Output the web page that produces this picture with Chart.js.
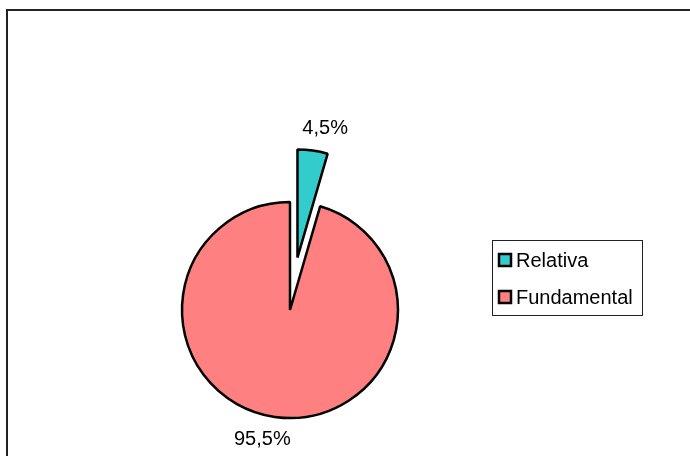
<!DOCTYPE html>
<html>
<head>
<meta charset="utf-8">
<script src="https://cdn.jsdelivr.net/npm/chart.js@4.4.0/dist/chart.umd.min.js"></script>
<style>
  html, body { margin: 0; padding: 0; background: #fff; }
  #wrap { width: 690px; height: 456px; position: relative; }
</style>
</head>
<body>
<div id="wrap"><canvas id="pie"></canvas></div>
<script>
const labels = ['Relativa', 'Fundamental'];
const values = [4.5, 95.5];
const valueLabels = ['4,5%', '95,5%'];
const colors = ['#33CCCC', '#FF8080'];

const FONT = '"Liberation Sans", Arial, sans-serif';
const PIE_RADIUS = 108;
// Chart.js moves an arc by offset / 4, so 212 pulls the slice out ~53px
const sliceOffsets = [212, 0];

// an offset arc is drawn bigger and narrower than its share; undo both so
// the pulled-out slice keeps the pie's radius and its full angle
const keepShapePlugin = {
  id: 'keepShape',
  afterDatasetsUpdate(chart) {
    chart.getDatasetMeta(0).data.forEach((arc, i) => {
      const off = sliceOffsets[i] / 4;
      if (!off) return;
      const fix = 1 - Math.sin(Math.min(Math.PI, arc.circumference));
      const grow = off * fix;
      const widen = grow / (Math.PI * PIE_RADIUS);
      arc.outerRadius = PIE_RADIUS - grow;
      arc.startAngle -= widen / 2;
      arc.endAngle += widen / 2;
    });
  }
};

// outer frame around the chart
const framePlugin = {
  id: 'frame',
  beforeDraw(chart) {
    const ctx = chart.ctx;
    ctx.save();
    ctx.strokeStyle = '#222';
    ctx.lineWidth = 2;
    ctx.strokeRect(7, 10, 700, 460);
    ctx.restore();
  }
};

// percentage labels just outside each slice
const valueLabelPlugin = {
  id: 'valueLabels',
  afterDatasetsDraw(chart) {
    const ctx = chart.ctx;
    const meta = chart.getDatasetMeta(0);
    ctx.save();
    ctx.font = '20px ' + FONT;
    ctx.fillStyle = '#000';
    ctx.textAlign = 'center';
    ctx.textBaseline = 'middle';
    meta.data.forEach((arc, i) => {
      const mid = (arc.startAngle + arc.endAngle) / 2;
      const shift = sliceOffsets[i] / 4;
      const cx = arc.x + Math.cos(mid) * shift;
      const cy = arc.y + Math.sin(mid) * shift;
      const a = mid + 0.07;
      const r = PIE_RADIUS + 24;
      ctx.fillText(valueLabels[i], cx + Math.cos(a) * r, cy + Math.sin(a) * r);
    });
    ctx.restore();
  }
};

// legend box on the right
const legendPlugin = {
  id: 'boxLegend',
  afterDraw(chart) {
    const ctx = chart.ctx;
    ctx.save();
    ctx.strokeStyle = '#222';
    ctx.lineWidth = 1;
    ctx.strokeRect(492.5, 240.5, 150, 75);
    ctx.font = '20px ' + FONT;
    ctx.textBaseline = 'middle';
    ctx.textAlign = 'left';
    labels.forEach((name, i) => {
      const cy = 260 + i * 37;
      ctx.fillStyle = colors[i];
      ctx.fillRect(499, cy - 6, 12, 12);
      ctx.strokeStyle = '#000';
      ctx.lineWidth = 2.5;
      ctx.strokeRect(499, cy - 6, 12, 12);
      ctx.fillStyle = '#000';
      ctx.fillText(name, 516, cy + 1);
    });
    ctx.restore();
  }
};

new Chart(document.getElementById('pie'), {
  type: 'pie',
  data: {
    labels: labels,
    datasets: [{
      data: values,
      backgroundColor: colors,
      borderColor: '#000',
      borderWidth: 2.5,
      offset: sliceOffsets
    }]
  },
  options: {
    responsive: true,
    maintainAspectRatio: false,
    animation: false,
    radius: PIE_RADIUS,
    layout: { padding: { left: 0, right: 110, top: 164, bottom: 0 } },
    plugins: {
      legend: { display: false },
      tooltip: { enabled: false }
    }
  },
  plugins: [keepShapePlugin, framePlugin, valueLabelPlugin, legendPlugin]
});
</script>
</body>
</html>
